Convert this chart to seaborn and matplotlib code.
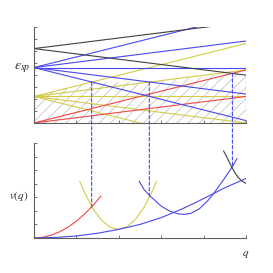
import numpy as np
import pandas as pd
import matplotlib
matplotlib.use('Agg')
from matplotlib import pyplot as plt
from matplotlib.patches import ConnectionPatch
import seaborn as sns

sns.set_style('white')
plt.rcParams['mathtext.fontset'] = 'stix'
plt.rcParams['hatch.linewidth'] = 0.45

# ---- top panel: energy levels vs q (values at q=0 and q=5) ----
q_ends = [0, 5]
red_start = 0.0
red_ends = [4.42, 2.21]
yellow_start = 2.21
yellow_ends = [6.63, 4.42, 2.21, 0.0, -2.21]
blue_start = 4.62
blue_ends = [9.04, 6.83, 4.62, 2.41, 0.20]
black_start = 6.2
black_ends = [8.41, 3.99]

# hatched region upper boundary
hatch_q = [0, 1.36, 2.72, 4.68, 5]
hatch_top = [2.21, 3.41, 3.41, 4.14, 3.99]

# dashed connectors: q, energy in top panel, v in bottom panel
cross_q = [1.36, 2.72, 4.68]
cross_e = [3.41, 3.41, 4.14]
cross_v = [2.28, 3.09, 5.22]

# ---- bottom panel: v(q) curves ----
red_q = [0, 0.2, 0.4, 0.6, 0.8, 1.0, 1.2, 1.4, 1.58]
red_v = [0, 0.05, 0.2, 0.45, 0.79, 1.24, 1.79, 2.43, 3.09]
yel_q = [1.08, 1.2, 1.4, 1.6, 1.8, 2.0, 2.2, 2.4, 2.6, 2.8, 2.89]
yel_v = [4.17, 3.30, 2.11, 1.28, 0.79, 0.64, 0.84, 1.39, 2.28, 3.52, 4.19]
blo_q = [0, 0.5, 1.0, 1.5, 2.0, 2.5, 3.0, 3.5, 4.0, 4.5, 5.0]
blo_v = [0, 0.04, 0.15, 0.35, 0.64, 1.0, 1.5, 2.15, 2.9, 3.7, 4.39]
bup_q = [2.48, 2.6, 2.74, 3.0, 3.2, 3.4, 3.55, 3.7, 3.9, 4.1, 4.23, 4.45, 4.67, 4.79]
bup_v = [4.19, 3.55, 3.09, 2.35, 1.98, 1.78, 1.74, 1.82, 2.15, 2.75, 3.25, 4.2, 5.22, 5.86]
blk_q = [4.47, 4.55, 4.66, 4.75, 4.82, 4.9, 5.0]
blk_v = [6.42, 5.95, 5.24, 4.75, 4.45, 4.2, 4.02]

c_red = '#f04848'
c_yel = '#d2cc48'
c_blue = '#4848f0'
c_blk = '#404040'
c_axis = '#606060'

fig = plt.figure(figsize=(2.73, 2.73), dpi=100)
ax1 = fig.add_axes([0.1245, 0.5495, 0.7766, 0.3516])
ax2 = fig.add_axes([0.1245, 0.1282, 0.7766, 0.348])

lw = 0.8


def fan(ax, start, ends, color):
    for e in ends:
        d = pd.DataFrame({'q': q_ends, 'E': [start, e]})
        sns.lineplot(data=d, x='q', y='E', ax=ax, color=color, lw=lw, sort=False)


ax1.fill_between(hatch_q, 0, hatch_top, facecolor='none', edgecolor='#b4b4b4',
                 hatch='///', linewidth=0)
ax1.plot([5, 5], [0, hatch_top[-1]], color=c_axis, lw=0.8)
fan(ax1, yellow_start, yellow_ends, c_yel)
fan(ax1, red_start, red_ends, c_red)
fan(ax1, blue_start, blue_ends, c_blue)
fan(ax1, black_start, black_ends, c_blk)

ax1.set_xlim(0, 5)
ax1.set_ylim(0, 8)
ax1.set_xticks(range(0, 6))
ax1.set_yticks(range(0, 9))
ax1.text(-0.015, blue_start, r'$\epsilon_{sp}$', transform=ax1.get_yaxis_transform(),
         ha='right', va='center', fontsize=10)

sns.lineplot(x=red_q, y=red_v, ax=ax2, color=c_red, lw=lw, sort=False)
sns.lineplot(x=yel_q, y=yel_v, ax=ax2, color=c_yel, lw=lw, sort=False)
sns.lineplot(x=blo_q, y=blo_v, ax=ax2, color=c_blue, lw=lw, sort=False)
sns.lineplot(x=bup_q, y=bup_v, ax=ax2, color=c_blue, lw=lw, sort=False)
sns.lineplot(x=blk_q, y=blk_v, ax=ax2, color=c_blk, lw=lw, sort=False)

ax2.set_xlim(0, 5)
ax2.set_ylim(0, 7)
ax2.set_xticks(range(0, 6))
ax2.set_yticks(range(0, 8))
ax2.text(-0.025, 0.44, r'$v(q)$', transform=ax2.transAxes, ha='right', va='center',
         fontsize=8)
ax2.text(1.0, -0.17, r'$q$', transform=ax2.transAxes, ha='center', va='center',
         fontsize=8)

for ax in (ax1, ax2):
    sns.despine(ax=ax)
    for s in ('left', 'bottom'):
        ax.spines[s].set_color(c_axis)
        ax.spines[s].set_linewidth(0.8)
    ax.tick_params(left=True, bottom=True, direction='in', length=2.5, width=0.6,
                   color=c_axis, labelleft=False, labelbottom=False)
    ax.set_xlabel('')
    ax.set_ylabel('')

for q, e, v in zip(cross_q, cross_e, cross_v):
    con = ConnectionPatch(xyA=(q, e), coordsA=ax1.transData,
                          xyB=(q, v), coordsB=ax2.transData,
                          color=c_blue, lw=0.8, linestyle=(0, (3, 2)))
    fig.add_artist(con)

fig.savefig('out.png', dpi=100)
